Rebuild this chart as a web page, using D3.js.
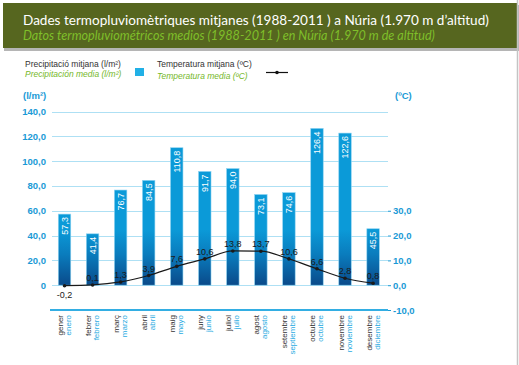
<!DOCTYPE html>
<html><head><meta charset="utf-8">
<script src="https://cdn.jsdelivr.net/npm/d3@7"></script>
<style>
html,body{margin:0;padding:0;background:#fff;}
svg{display:block;}
</style></head>
<body>
<script>
const monthsCa = ["gener","febrer","març","abril","maig","juny","juliol","agost","setembre","octubre","novembre","desembre"];
const monthsEs = ["enero","febrero","marzo","abril","mayo","junio","julio","agosto","septiembre","octubre","noviembre","diciembre"];
const precipitation = [57.3, 41.4, 76.7, 84.5, 110.8, 91.7, 94.0, 73.1, 74.6, 126.4, 122.6, 45.5];
const temperature = [-0.2, 0.1, 1.3, 3.9, 7.6, 10.6, 13.8, 13.7, 10.6, 6.6, 2.8, 0.8];
const precipTicks = [0, 20, 40, 60, 80, 100, 120, 140];
const tempTicks = [-10, 0, 10, 20, 30];
const titleCa = "Dades termopluviomètriques mitjanes (1988-2011 ) a Núria (1.970 m d’altitud)";
const titleEs = "Datos termopluviométricos medios (1988-2011 ) en Núria (1.970 m de altitud)";

const W = 519, H = 365;
const svg = d3.select("body").append("svg").attr("width", W).attr("height", H);
const defs = svg.append("defs");

// header band
svg.append("rect").attr("x", 4).attr("y", 5).attr("width", 515).attr("height", 46).attr("fill", "#b5b5b5");
svg.append("rect").attr("x", 3).attr("y", 3).attr("width", 514).attr("height", 45).attr("fill", "#56661f");
svg.append("line").attr("x1", 517.5).attr("x2", 517.5).attr("y1", 0).attr("y2", H).attr("stroke", "#c4c4c4").attr("stroke-width", 1.5);

function fitText(sel, target, size) {
  sel.attr("font-size", size);
  const w = sel.node().getComputedTextLength();
  if (w > 0) sel.attr("font-size", (size * target / w).toFixed(2));
}
const t1 = svg.append("text").attr("x", 23).attr("y", 24.5).text(titleCa)
  .attr("font-family", "Lato, 'Open Sans', sans-serif").attr("fill", "#ffffff");
fitText(t1, 466, 14);
const t2 = svg.append("text").attr("x", 23).attr("y", 40).text(titleEs)
  .attr("font-family", "Lato, 'Open Sans', sans-serif").attr("font-style", "italic").attr("fill", "#7fbf2a");
fitText(t2, 412, 12);

// legend
const lg = svg.append("g").attr("font-family", "'Liberation Sans', Arial, sans-serif").attr("font-size", 8.5);
lg.append("text").attr("x", 25).attr("y", 67).attr("fill", "#333").text("Precipitació mitjana (l/m²)");
lg.append("text").attr("x", 25).attr("y", 77).attr("fill", "#76b82a").attr("font-style", "italic").text("Precipitación media (l/m²)");
lg.append("rect").attr("x", 135).attr("y", 68).attr("width", 9).attr("height", 8).attr("fill", "#21b0e6");
lg.append("text").attr("x", 157).attr("y", 66.5).attr("fill", "#333").text("Temperatura mitjana (ºC)");
lg.append("text").attr("x", 157).attr("y", 79).attr("fill", "#76b82a").attr("font-style", "italic").text("Temperatura media (ºC)");
lg.append("line").attr("x1", 266).attr("x2", 288).attr("y1", 72.5).attr("y2", 72.5).attr("stroke", "#111").attr("stroke-width", 1.2);
lg.append("circle").attr("cx", 277).attr("cy", 72.5).attr("r", 1.8).attr("fill", "#111");

// scales
const x = d3.scaleBand().domain(monthsCa).range([50.5, 387.1]).paddingInner(0.555).paddingOuter(0.2775);
const yL = d3.scaleLinear().domain([-20, 140]).range([310, 111.5]);
const yR = d3.scaleLinear().domain([-10, 70]).range([310, 111.5]);
const cx = m => x(m) + x.bandwidth() / 2;

// gridlines
svg.append("g").selectAll("line").data(precipTicks).join("line")
  .attr("x1", 52).attr("x2", 388).attr("y1", d => Math.round(yL(d)) + 0.5).attr("y2", d => Math.round(yL(d)) + 0.5)
  .attr("stroke", "#aee0f4").attr("stroke-width", 1);

// base line
svg.append("line").attr("x1", 50).attr("x2", 388).attr("y1", yL(-20)).attr("y2", yL(-20))
  .attr("stroke", "#33aee3").attr("stroke-width", 2);

// left axis
const axL = svg.append("g").attr("transform", "translate(52,0)")
  .call(d3.axisLeft(yL).tickValues(precipTicks).tickSize(0).tickPadding(6)
    .tickFormat(d => d === 0 ? "0" : d3.format(".1f")(d).replace(".", ",")));
axL.select(".domain").remove();
axL.selectAll("text").attr("font-family", "'Liberation Sans', Arial, sans-serif").attr("font-size", 9.5)
  .attr("font-weight", "bold").attr("fill", "#1a9ad6");
svg.append("text").attr("x", 23).attr("y", 98.5).text("(l/m²)")
  .attr("font-family", "'Liberation Sans', Arial, sans-serif").attr("font-size", 9.5).attr("font-weight", "bold").attr("fill", "#1a9ad6");

// right axis
const axR = svg.append("g").attr("transform", "translate(388,0)")
  .call(d3.axisRight(yR).tickValues(tempTicks).tickSize(3).tickPadding(2)
    .tickFormat(d => d3.format(".1f")(d).replace(".", ",").replace("−", "-")));
axR.select(".domain").remove();
axR.selectAll("line").attr("stroke", "#1a9ad6");
axR.selectAll("text").attr("font-family", "'Liberation Sans', Arial, sans-serif").attr("font-size", 9.5)
  .attr("font-weight", "bold").attr("fill", "#1a9ad6");
svg.append("text").attr("x", 395).attr("y", 98.5).text("(ºC)")
  .attr("font-family", "'Liberation Sans', Arial, sans-serif").attr("font-size", 9.5).attr("font-weight", "bold").attr("fill", "#1a9ad6");

// bar gradient
const grad = defs.append("linearGradient").attr("id", "barGrad").attr("gradientUnits", "userSpaceOnUse")
  .attr("x1", 0).attr("x2", 0).attr("y1", yL(45)).attr("y2", yL(0));
grad.append("stop").attr("offset", 0).attr("stop-color", "#0b9ad8");
grad.append("stop").attr("offset", 0.45).attr("stop-color", "#0a7cbd");
grad.append("stop").attr("offset", 1).attr("stop-color", "#0a4a8a");

// bars
svg.append("g").selectAll("rect").data(precipitation).join("rect")
  .attr("x", (d, i) => x(monthsCa[i])).attr("width", x.bandwidth())
  .attr("y", d => yL(d)).attr("height", d => yL(0) - yL(d))
  .attr("fill", "url(#barGrad)").attr("stroke", "#8fd4f2").attr("stroke-width", 0.6);

// bar labels
svg.append("g").selectAll("text").data(precipitation).join("text")
  .attr("transform", (d, i) => `translate(${cx(monthsCa[i]) + 3.3},${yL(d) + 3}) rotate(-90)`)
  .attr("text-anchor", "end").attr("fill", "#ffffff")
  .attr("font-family", "'Liberation Sans', Arial, sans-serif").attr("font-size", 9)
  .text(d => d3.format(".1f")(d).replace(".", ","));

// temperature line
const line = d3.line().x((d, i) => cx(monthsCa[i])).y(d => yR(d)).curve(d3.curveMonotoneX);
svg.append("path").datum(temperature).attr("d", line).attr("fill", "none").attr("stroke", "#1a1a1a").attr("stroke-width", 1.2);
svg.append("g").selectAll("circle").data(temperature).join("circle")
  .attr("cx", (d, i) => cx(monthsCa[i])).attr("cy", d => yR(d)).attr("r", 1.8).attr("fill", "#1a1a1a");
svg.append("g").selectAll("text").data(temperature).join("text")
  .attr("x", (d, i) => cx(monthsCa[i])).attr("y", d => d < 0 ? yR(d) + 12 : yR(d) - 4)
  .attr("text-anchor", "middle").attr("fill", "#1a1a1a")
  .attr("font-family", "'Liberation Sans', Arial, sans-serif").attr("font-size", 9)
  .text(d => d3.format(".1f")(d).replace(".", ",").replace("−", "-"));

// month labels
const ml = svg.append("g").attr("font-family", "'Liberation Sans', Arial, sans-serif").attr("font-size", 8);
ml.selectAll("text.ca").data(monthsCa).join("text").attr("class", "ca")
  .attr("transform", d => `translate(${cx(d) - 1.5},315) rotate(-90)`)
  .attr("text-anchor", "end").attr("fill", "#333").text(d => d);
ml.selectAll("text.es").data(monthsEs).join("text").attr("class", "es")
  .attr("transform", (d, i) => `translate(${cx(monthsCa[i]) + 6.5},315) rotate(-90)`)
  .attr("text-anchor", "end").attr("fill", "#29abe2").text(d => d);
</script>
</body></html>
